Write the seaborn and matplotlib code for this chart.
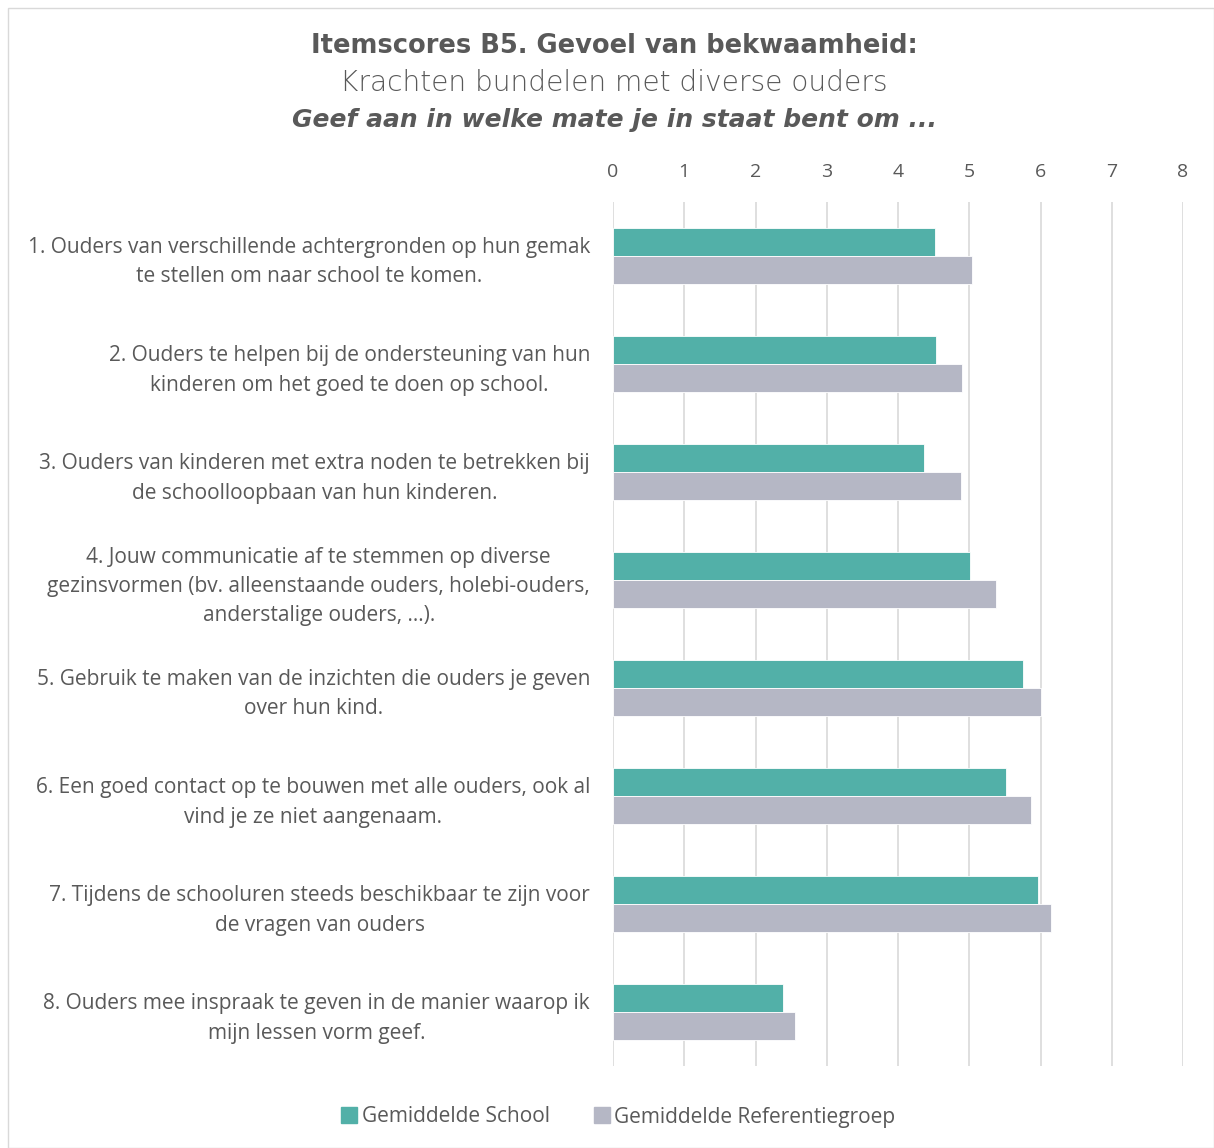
import matplotlib
matplotlib.use("Agg")
import matplotlib.pyplot as plt
import seaborn as sns
import pandas as pd
from matplotlib.patches import Rectangle
from matplotlib.lines import Line2D

categories = [
    "1. Ouders van verschillende achtergronden op hun gemak\nte stellen om naar school te komen.",
    "2. Ouders te helpen bij de ondersteuning van hun\nkinderen om het goed te doen op school.",
    "3. Ouders van kinderen met extra noden te betrekken bij\nde schoolloopbaan van hun kinderen.",
    "4. Jouw communicatie af te stemmen op diverse\ngezinsvormen (bv. alleenstaande ouders, holebi-ouders,\nanderstalige ouders, ...).",
    "5. Gebruik te maken van de inzichten die ouders je geven\nover hun kind.",
    "6. Een goed contact op te bouwen met alle ouders, ook al\nvind je ze niet aangenaam.",
    "7. Tijdens de schooluren steeds beschikbaar te zijn voor\nde vragen van ouders",
    "8. Ouders mee inspraak te geven in de manier waarop ik\nmijn lessen vorm geef.",
]
school = [4.52, 4.54, 4.36, 5.01, 5.75, 5.52, 5.96, 2.38]
referentie = [5.04, 4.90, 4.89, 5.37, 6.01, 5.86, 6.15, 2.55]
series_names = ["Gemiddelde School", "Gemiddelde Referentiegroep"]
ticks = [0, 1, 2, 3, 4, 5, 6, 7, 8]

df = pd.DataFrame({
    "item": categories * 2,
    "score": school + referentie,
    "reeks": [series_names[0]] * len(categories) + [series_names[1]] * len(categories),
})

sns.set_theme(style="white")
plt.rcParams["font.family"] = ["Open Sans", "DejaVu Sans"]
TXT = "#595959"
colors = ["#52B0A8", "#B5B7C5"]

fig = plt.figure(figsize=(12.14, 11.48), dpi=100)
ax = fig.add_axes([613 / 1214, 1 - 1066 / 1148, (1183 - 613) / 1214, (1066 - 202) / 1148])

sns.barplot(data=df, y="item", x="score", hue="reeks", orient="h",
            palette=colors, width=0.52, ax=ax, legend=False,
            saturation=1, edgecolor="white", linewidth=0.6)

ax.set_xlim(0, 8)
ax.set_xticks(ticks)
ax.xaxis.tick_top()
ax.tick_params(axis="x", length=0, pad=15, labelsize=14, colors=TXT)
ax.tick_params(axis="y", length=0, pad=16.5, labelsize=15, colors=TXT)
ax.set_yticks(range(len(categories)), labels=categories, linespacing=1.5,
              multialignment="center")
ax.set_xlabel("")
ax.set_ylabel("")
for s in ax.spines.values():
    s.set_visible(False)
ax.grid(axis="x", color="#D9D9D9", linewidth=1.2)
ax.set_axisbelow(True)

TF = ["DejaVu Sans"]
TX = 614 / 1214
fig.text(TX, 1 - 46 / 1148, "Itemscores B5. Gevoel van bekwaamheid:", ha="center", va="center",
         fontsize=18.5, fontweight="bold", color=TXT, family=TF)
fig.text(TX, 1 - 83 / 1148, "Krachten bundelen met diverse ouders", ha="center", va="center",
         fontsize=20.2, fontweight="light", color=TXT, family=TF)
fig.text(TX, 1 - 120 / 1148, "Geef aan in welke mate je in staat bent om ...", ha="center", va="center",
         fontsize=18, fontweight="bold", fontstyle="italic", color=TXT, family=TF)

handles = [Line2D([0], [0], marker="s", linestyle="", markersize=12, markerfacecolor=c,
                  markeredgecolor=c) for c in colors]
fig.legend(handles, series_names, loc="center", bbox_to_anchor=(618 / 1214, 1 - 1117 / 1148),
           ncol=2, frameon=False, fontsize=15, labelcolor=TXT, handletextpad=0.2,
           columnspacing=2.1, handlelength=0.8)

fig.patches.append(Rectangle((8 / 1214, 0), 1 - 8 / 1214, 1 - 8 / 1148, transform=fig.transFigure,
                             fill=False, edgecolor="#D9D9D9", linewidth=1))

fig.savefig("out.png", dpi=100)
